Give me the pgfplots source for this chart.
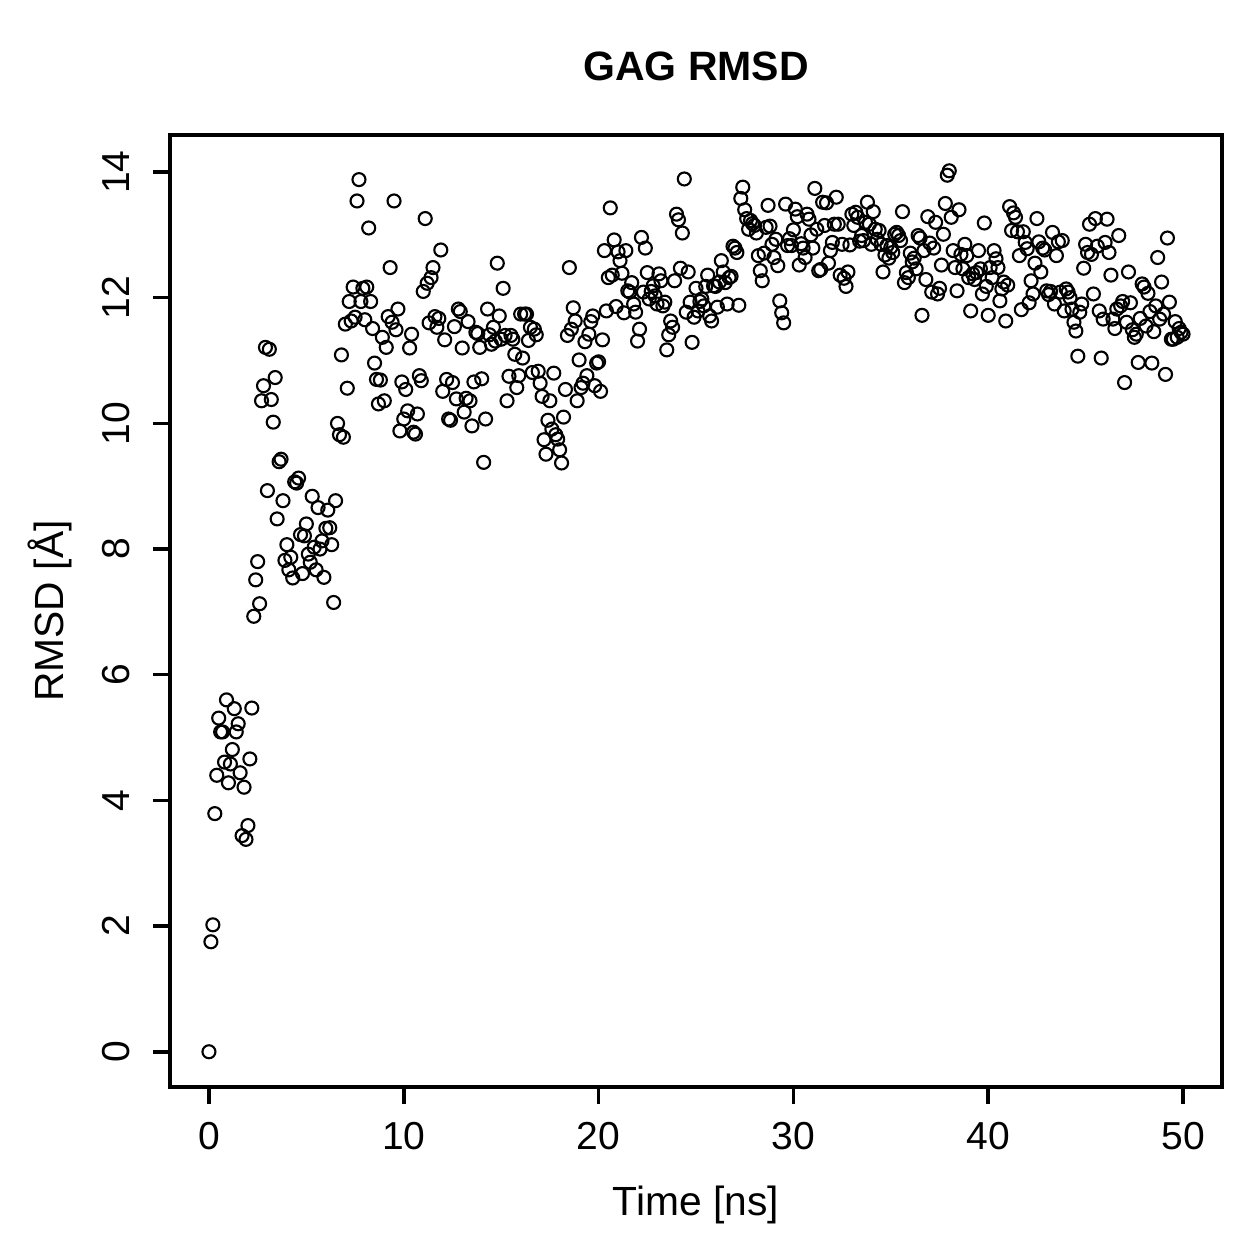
\documentclass[border=0pt]{standalone}
\usepackage{fontspec}
\setmainfont{Liberation Sans}
\usepackage{pgfplots}
\pgfplotsset{compat=1.18}

\begin{document}
\begin{tikzpicture}
% fixed page frame around the plotting box
\path[use as bounding box] (-68pt,-68.8pt) rectangle (435.6pt,434.8pt);
\begin{axis}[
  at={(0pt,0pt)}, anchor=south west,
  scale only axis, width=420.8pt, height=380.8pt,
  xmin=-2, xmax=52, ymin=-0.561, ymax=14.59,
  xtick={0,10,20,30,40,50}, ytick={0,2,4,6,8,10,12,14},
  tick pos=left, tick align=outside, major tick length=6.8pt,
  axis line style={line width=1.4pt},
  every tick/.style={black, line width=1.4pt},
  /pgf/number format/assume math mode=true,
  ticklabel style={font=\fontsize{15.6}{18}\selectfont},
  xticklabel style={anchor=base, inner sep=0pt},
  xticklabel shift=18pt,
  yticklabel style={rotate=90, anchor=base, inner sep=0pt},
  yticklabel shift=9.4pt,
  title={GAG RMSD},
  title style={at={(axis description cs:0.5,1.041)}, anchor=base, inner sep=0pt,
    font=\bfseries\fontsize{16.4}{19}\selectfont},
  xlabel={Time [ns]},
  xlabel style={at={(axis description cs:0.5,-0.1355)}, anchor=base, inner sep=0pt,
    font=\fontsize{16.3}{19}\selectfont},
  ylabel={RMSD [Å]},
  ylabel style={at={(axis description cs:-0.1014,0.5)}, anchor=base, rotate=0, inner sep=0pt,
    font=\fontsize{16.3}{19}\selectfont},
]
\addplot[only marks, mark=o, mark size=2.6pt, black, mark options={line width=0.85pt}] coordinates {
(0.0,0) (0.1,1.75) (0.2,2.02) (0.3,3.79) (0.4,4.40) (0.5,5.31) (0.6,5.09) (0.7,5.09) (0.8,4.61) (0.9,5.60)
(1.0,4.28) (1.1,4.58) (1.2,4.81) (1.3,5.46) (1.4,5.09) (1.5,5.22) (1.6,4.44) (1.7,3.44) (1.8,4.21) (1.9,3.38)
(2.0,3.60) (2.1,4.66) (2.2,5.47) (2.3,6.93) (2.4,7.51) (2.5,7.80) (2.6,7.13) (2.7,10.36) (2.8,10.60) (2.9,11.21)
(3.0,8.93) (3.1,11.18) (3.2,10.38) (3.3,10.02) (3.4,10.73) (3.5,8.48) (3.6,9.39) (3.7,9.43) (3.8,8.77) (3.9,7.82)
(4.0,8.07) (4.1,7.67) (4.2,7.87) (4.3,7.54) (4.4,9.07) (4.5,9.05) (4.6,9.13) (4.7,8.23) (4.8,7.61) (4.9,8.21)
(5.0,8.40) (5.1,7.92) (5.2,7.79) (5.3,8.84) (5.4,8.03) (5.5,7.67) (5.6,8.66) (5.7,8.00) (5.8,8.13) (5.9,7.55)
(6.0,8.33) (6.1,8.62) (6.2,8.34) (6.3,8.07) (6.4,7.15) (6.5,8.77) (6.6,10.00) (6.7,9.82) (6.8,11.09) (6.9,9.78)
(7.0,11.58) (7.1,10.56) (7.2,11.94) (7.3,11.63) (7.4,12.17) (7.5,11.69) (7.6,13.54) (7.7,13.88) (7.8,11.94) (7.9,12.15)
(8.0,11.65) (8.1,12.17) (8.2,13.11) (8.3,11.94) (8.4,11.51) (8.5,10.96) (8.6,10.70) (8.7,10.31) (8.8,10.69) (8.9,11.37)
(9.0,10.36) (9.1,11.21) (9.2,11.70) (9.3,12.48) (9.4,11.61) (9.5,13.54) (9.6,11.49) (9.7,11.82) (9.8,9.88) (9.9,10.66)
(10.0,10.07) (10.1,10.54) (10.2,10.20) (10.3,11.20) (10.4,11.42) (10.5,9.86) (10.6,9.83) (10.7,10.15) (10.8,10.76) (10.9,10.68)
(11.0,12.10) (11.1,13.26) (11.2,12.23) (11.3,11.60) (11.4,12.32) (11.5,12.48) (11.6,11.70) (11.7,11.53) (11.8,11.67) (11.9,12.76)
(12.0,10.51) (12.1,11.33) (12.2,10.70) (12.3,10.07) (12.4,10.05) (12.5,10.65) (12.6,11.54) (12.7,10.39) (12.8,11.82) (12.9,11.78)
(13.0,11.20) (13.1,10.18) (13.2,10.40) (13.3,11.62) (13.4,10.36) (13.5,9.96) (13.6,10.66) (13.7,11.45) (13.8,11.43) (13.9,11.21)
(14.0,10.71) (14.1,9.38) (14.2,10.07) (14.3,11.82) (14.4,11.41) (14.5,11.26) (14.6,11.53) (14.7,11.31) (14.8,12.55) (14.9,11.71)
(15.0,11.34) (15.1,12.15) (15.2,11.40) (15.3,10.36) (15.4,10.75) (15.5,11.40) (15.6,11.34) (15.7,11.10) (15.8,10.57) (15.9,10.76)
(16.0,11.74) (16.1,11.04) (16.2,11.74) (16.3,11.74) (16.4,11.32) (16.5,11.53) (16.6,10.81) (16.7,11.50) (16.8,11.41) (16.9,10.83)
(17.0,10.64) (17.1,10.43) (17.2,9.74) (17.3,9.51) (17.4,10.05) (17.5,10.36) (17.6,9.91) (17.7,10.80) (17.8,9.82) (17.9,9.75)
(18.0,9.58) (18.1,9.37) (18.2,10.10) (18.3,10.54) (18.4,11.40) (18.5,12.48) (18.6,11.50) (18.7,11.84) (18.8,11.63) (18.9,10.36)
(19.0,11.01) (19.1,10.57) (19.2,10.64) (19.3,11.30) (19.4,10.76) (19.5,11.42) (19.6,11.62) (19.7,11.71) (19.8,10.60) (19.9,10.96)
(20.0,10.98) (20.1,10.51) (20.2,11.33) (20.3,12.75) (20.4,11.79) (20.5,12.32) (20.6,13.43) (20.7,12.36) (20.8,12.92) (20.9,11.86)
(21.0,12.73) (21.1,12.59) (21.2,12.39) (21.3,11.76) (21.4,12.75) (21.5,12.11) (21.6,12.09) (21.7,12.24) (21.8,11.90) (21.9,11.77)
(22.0,11.31) (22.1,11.50) (22.2,12.96) (22.3,12.09) (22.4,12.79) (22.5,12.40) (22.6,11.98) (22.7,12.10) (22.8,12.19) (22.9,12.03)
(23.0,11.90) (23.1,12.38) (23.2,12.27) (23.3,11.87) (23.4,11.93) (23.5,11.17) (23.6,11.41) (23.7,11.63) (23.8,11.53) (23.9,12.27)
(24.0,13.33) (24.1,13.24) (24.2,12.47) (24.3,13.03) (24.4,13.89) (24.5,11.77) (24.6,12.41) (24.7,11.93) (24.8,11.29) (24.9,11.69)
(25.0,12.15) (25.1,11.79) (25.2,11.94) (25.3,11.98) (25.4,11.87) (25.5,12.18) (25.6,12.36) (25.7,11.71) (25.8,11.63) (25.9,12.19)
(26.0,12.18) (26.1,11.85) (26.2,12.25) (26.3,12.59) (26.4,12.41) (26.5,12.24) (26.6,11.90) (26.7,12.32) (26.8,12.34) (26.9,12.82)
(27.0,12.79) (27.1,12.72) (27.2,11.88) (27.3,13.58) (27.4,13.76) (27.5,13.40) (27.6,13.26) (27.7,13.09) (27.8,13.23) (27.9,13.18)
(28.0,13.15) (28.1,13.03) (28.2,12.67) (28.3,12.43) (28.4,12.27) (28.5,12.71) (28.6,13.12) (28.7,13.47) (28.8,13.14) (28.9,12.85)
(29.0,12.64) (29.1,12.93) (29.2,12.51) (29.3,11.95) (29.4,11.76) (29.5,11.60) (29.6,13.49) (29.7,12.83) (29.8,12.94) (29.9,12.83)
(30.0,13.08) (30.1,13.41) (30.2,13.29) (30.3,12.52) (30.4,12.86) (30.5,12.79) (30.6,12.64) (30.7,13.33) (30.8,13.25) (30.9,13.00)
(31.0,12.79) (31.1,13.74) (31.2,13.09) (31.3,12.43) (31.4,12.45) (31.5,13.52) (31.6,13.15) (31.7,13.51) (31.8,12.55) (31.9,12.75)
(32.0,12.88) (32.1,13.17) (32.2,13.60) (32.3,13.17) (32.4,12.36) (32.5,12.85) (32.6,12.31) (32.7,12.18) (32.8,12.41) (32.9,12.84)
(33.0,13.33) (33.1,13.15) (33.2,13.36) (33.3,13.28) (33.4,12.90) (33.5,12.99) (33.6,12.91) (33.7,13.20) (33.8,13.52) (33.9,13.17)
(34.0,12.85) (34.1,13.37) (34.2,13.09) (34.3,12.93) (34.4,13.07) (34.5,12.85) (34.6,12.41) (34.7,12.68) (34.8,12.83) (34.9,12.63)
(35.0,12.80) (35.1,12.72) (35.2,13.01) (35.3,13.04) (35.4,12.99) (35.5,12.91) (35.6,13.37) (35.7,12.24) (35.8,12.40) (35.9,12.32)
(36.0,12.71) (36.1,12.57) (36.2,12.63) (36.3,12.46) (36.4,12.99) (36.5,12.95) (36.6,11.72) (36.7,12.75) (36.8,12.29) (36.9,13.29)
(37.0,12.87) (37.1,12.09) (37.2,12.79) (37.3,13.20) (37.4,12.06) (37.5,12.15) (37.6,12.52) (37.7,13.01) (37.8,13.50) (37.9,13.95)
(38.0,14.02) (38.1,13.28) (38.2,12.75) (38.3,12.48) (38.4,12.11) (38.5,13.40) (38.6,12.69) (38.7,12.46) (38.8,12.85) (38.9,12.67)
(39.0,12.32) (39.1,11.79) (39.2,12.38) (39.3,12.29) (39.4,12.40) (39.5,12.75) (39.6,12.46) (39.7,12.06) (39.8,13.19) (39.9,12.18)
(40.0,11.72) (40.1,12.48) (40.2,12.32) (40.3,12.75) (40.4,12.62) (40.5,12.48) (40.6,11.95) (40.7,12.14) (40.8,12.25) (40.9,11.63)
(41.0,12.20) (41.1,13.45) (41.2,13.07) (41.3,13.35) (41.4,13.28) (41.5,13.05) (41.6,12.67) (41.7,11.81) (41.8,13.05) (41.9,12.88)
(42.0,12.78) (42.1,11.92) (42.2,12.27) (42.3,12.06) (42.4,12.55) (42.5,13.26) (42.6,12.89) (42.7,12.41) (42.8,12.79) (42.9,12.76)
(43.0,12.11) (43.1,12.05) (43.2,12.10) (43.3,13.04) (43.4,11.90) (43.5,12.67) (43.6,12.89) (43.7,12.09) (43.8,12.91) (43.9,11.79)
(44.0,12.14) (44.1,12.09) (44.2,12.00) (44.3,11.82) (44.4,11.61) (44.5,11.47) (44.6,11.07) (44.7,11.77) (44.8,11.90) (44.9,12.47)
(45.0,12.85) (45.1,12.72) (45.2,13.17) (45.3,12.69) (45.4,12.06) (45.5,13.26) (45.6,12.82) (45.7,11.79) (45.8,11.04) (45.9,11.66)
(46.0,12.88) (46.1,13.25) (46.2,12.72) (46.3,12.36) (46.4,11.66) (46.5,11.51) (46.6,11.82) (46.7,12.99) (46.8,11.87) (46.9,11.94)
(47.0,10.65) (47.1,11.61) (47.2,12.41) (47.3,11.92) (47.4,11.49) (47.5,11.37) (47.6,11.42) (47.7,10.97) (47.8,11.67) (47.9,12.22)
(48.0,12.17) (48.1,11.55) (48.2,12.07) (48.3,11.78) (48.4,10.96) (48.5,11.46) (48.6,11.87) (48.7,12.64) (48.8,11.66) (48.9,12.25)
(49.0,11.74) (49.1,10.78) (49.2,12.95) (49.3,11.93) (49.4,11.34) (49.5,11.34) (49.6,11.62) (49.7,11.37) (49.8,11.51) (49.9,11.45)
(50.0,11.42)
};
\end{axis}
\end{tikzpicture}
\end{document}
